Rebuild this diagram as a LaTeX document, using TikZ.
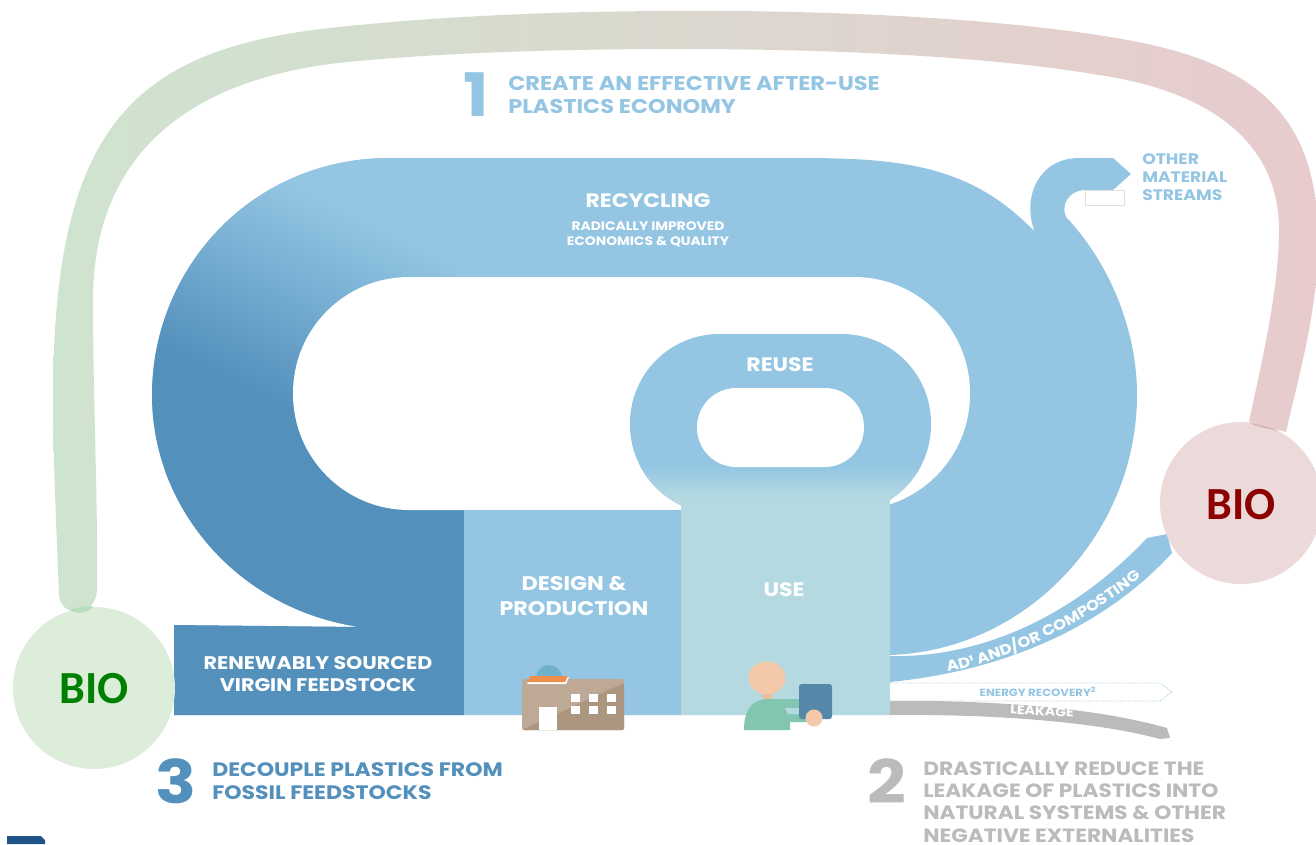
\documentclass[tikz,border=0pt]{standalone}
\usepackage{fontspec}
\setmainfont{Poppins}[FakeStretch=1.13]
\newfontfamily\biofont{Carlito}
\usetikzlibrary{decorations.text}

\definecolor{loopblue}{HTML}{94C6E3}
\definecolor{darkblue}{HTML}{5390BC}
\definecolor{usegreen}{HTML}{B5D9E0}
\definecolor{leakgray}{HTML}{BBBBBB}
\definecolor{biogreen}{HTML}{DCEDDA}
\definecolor{biored}{HTML}{ECDADA}
\definecolor{swooshgreen}{HTML}{CEE4CF}
\definecolor{swooshmid}{HTML}{DCDACC}
\definecolor{swooshred}{HTML}{E8CBCD}
\definecolor{lensgreen}{HTML}{B9DCBA}
\definecolor{lensred}{HTML}{D8B4B8}
\definecolor{factorylight}{HTML}{BDA995}
\definecolor{factorydark}{HTML}{AC9680}
\definecolor{factorydome}{HTML}{6FB0CB}
\definecolor{roofred}{HTML}{EE8F4C}
\definecolor{skin}{HTML}{F3C9A9}
\definecolor{bodygreen}{HTML}{82C5B0}
\definecolor{tabletblue}{HTML}{5587A8}
\definecolor{logoblue}{HTML}{1F5488}

\pgfdeclareverticalshading{loopfade}{100bp}{color(0bp)=(darkblue); color(37bp)=(darkblue); color(63bp)=(loopblue); color(100bp)=(loopblue)}

\def\looppath{(390,158) -- (800,158) .. controls (900,158) and (970,165) .. (1033,230) -- (1068,219) .. controls (1110,265) and (1137,330) .. (1137,395) .. controls (1137,530) and (1030,650) .. (890,655) -- (890,715) -- (174,715) -- (174,625) -- (360,627) .. controls (240,610) and (152,510) .. (152,395) .. controls (152,270) and (250,158) .. (390,158) -- cycle}

\tikzset{
    whitetxt/.style={text=white, font=\bfseries\fontsize{#1}{#1}\selectfont, align=center, inner sep=0pt},
    headtxt/.style={font=\bfseries\fontsize{#1}{16.8}\selectfont, align=left, anchor=west, inner sep=0pt},
    bigdigit/.style={font=\bfseries\fontsize{45}{45}\selectfont, inner sep=0pt},
    biotxt/.style={font=\biofont\bfseries\fontsize{34.5}{34.5}\selectfont, inner sep=0pt},
}

\begin{document}
\begin{tikzpicture}[x=0.75pt, y=-0.75pt]
    \useasboundingbox (0,0) rectangle (1316,844);
    \fill[white] (0,0) rectangle (1316,844);

    % Swoosh from bio to bio
    \path[shade, left color=swooshgreen, middle color=swooshmid, right color=swooshred]
        (59,595) .. controls (56,520) and (53,450) .. (53,400)
        .. controls (53,130) and (130,50) .. (330,28)
        .. controls (430,17) and (550,11) .. (680,11)
        .. controls (850,10) and (1010,20) .. (1116,38)
        .. controls (1250,60) and (1318,110) .. (1318,240)
        .. controls (1318,310) and (1300,370) .. (1286,432)
        -- (1249,422) .. controls (1262,360) and (1279,290) .. (1279,230)
        .. controls (1279,130) and (1190,88) .. (1099,75)
        .. controls (1000,58) and (850,49) .. (680,49)
        .. controls (570,49) and (450,52) .. (347,62)
        .. controls (170,80) and (93,170) .. (93,300)
        .. controls (93,400) and (98,500) .. (97,590)
        .. controls (96,618) and (60,618) .. (59,595) -- cycle;

    % Big loop
    \begin{scope}
        \clip \looppath;
        \fill[loopblue] (100,100) rectangle (1200,720);
        \fill[darkblue] (100,470) rectangle (464,720);
        \path[shade, shading=loopfade, shading angle=-26] (55,80) rectangle (455,480);
    \end{scope}
    \fill[white, rounded corners=87pt] (293,277) rectangle (970,510);

    % Other material streams
    \fill[loopblue] (1034,230) .. controls (1022,195) and (1040,158) .. (1079,158) -- (1113,158) -- (1131,174) -- (1113,190) -- (1085,190) .. controls (1070,190) and (1058,205) .. (1068,220) -- cycle;
    \draw[black!12, fill=white, line width=0.4pt] (1085,190) rectangle (1124,205);

    % Reuse ring and use block
    \fill[loopblue, rounded corners=67pt] (630,334) rectangle (931,514);
    \begin{scope}
        \clip[rounded corners=67pt] (630,334) rectangle (931,514);
        \shade[top color=loopblue, middle color=loopblue!70!white, bottom color=usegreen] (630,466) rectangle (931,498);
        \fill[usegreen] (630,498) rectangle (931,514);
    \end{scope}
    \fill[white, rounded corners=29.5pt] (697,388) rectangle (864,467);
    \fill[loopblue] (464,510) rectangle (681,715);
    \fill[usegreen] (681,498) rectangle (890,715);

    % Outflows
    \fill[loopblue] (890,656) .. controls (970,658) and (1065,625) .. (1147,538) -- (1167,534) -- (1172,553) .. controls (1120,610) and (1030,668) .. (890,682) -- cycle;
    \draw[loopblue, densely dotted, fill=white, line width=0.6pt] (890,683) -- (1160,683) -- (1172,692) -- (1160,701) -- (890,701);
    \fill[leakgray] (890,701) .. controls (980,700) and (1090,706) .. (1167,728) -- (1170,738) -- (1160,739) .. controls (1090,720) and (980,714) .. (890,715) -- cycle;

    % Factory
    \fill[factorydome] (549,678) circle (13);
    \fill[factorylight, rounded corners=1.5pt] (522,679) rectangle (624,730);
    \fill[factorydark, rounded corners=1pt] (522,730) -- (624,683) -- (624,730) -- cycle;
    \fill[white] (539,707) rectangle (557,730);
    \foreach \wx in {571,589,607} {
        \foreach \wy in {694,706} {
            \fill[white] (\wx,\wy) rectangle (\wx+9,\wy+8);
        }
    }
    \fill[white] (528,682) -- (569,677) -- (566,684) -- (527,684) -- cycle;
    \fill[roofred] (530,676) -- (568,676) -- (565,682) -- (528,682) -- cycle;

    % Person with tablet
    \fill[skin!85!brown] (763,690) rectangle (772,702);
    \fill[skin] (767,678) ellipse (18.5 and 16.5);
    \fill[bodygreen] (744,730) .. controls (744,712) and (750,700) .. (767,699) -- (800,699) -- (807,714) -- (807,722) -- (790,722) -- (790,730) -- cycle;
    \fill[usegreen] (785,708) -- (799,708) -- (799,714) -- (788,714) -- cycle;
    \fill[tabletblue, rounded corners=2pt] (799,684) rectangle (832,719);
    \fill[skin] (814,718) circle (8.5);

    % Bio circles
    \fill[biogreen] (94,688) circle (81);
    \fill[biored] (1241,503) circle (81);
    \fill[lensgreen] (70,610) .. controls (78,607) and (86,606) .. (93,606) .. controls (88,613) and (78,615) .. (70,610) -- cycle;
    \fill[lensred] (1249,423) .. controls (1260,424) and (1270,427) .. (1279,431) .. controls (1268,429) and (1258,427) .. (1249,423) -- cycle;
    \node[biotxt, text=green!50!black] (bioleft) at (94,689) {BIO};
    \node[biotxt, text=red!55!black] (bioright) at (1241,505) {BIO};

    % Labels on the loop
    \node[whitetxt=14.6] (recycling) at (648,201) {RECYCLING};
    \node[whitetxt=9.2] (recyclingsub) at (648,234) {RADICALLY IMPROVED\\[2.2pt]ECONOMICS \& QUALITY};
    \node[whitetxt=14.6] (reuse) at (780,365) {REUSE};
    \node[whitetxt=14.6] (use) at (784,590) {USE};
    \node[whitetxt=14.8] (design) at (574,596) {DESIGN \&\\[3.4pt]PRODUCTION};
    \node[whitetxt=13.7] (renewable) at (318,674) {RENEWABLY SOURCED\\[3.4pt]VIRGIN FEEDSTOCK};

    % Labels of the outflows
    \path[decorate, decoration={text along path, text align=center, text={|\bfseries\fontsize{11}{11}\selectfont\color{white}|AD¹ AND/OR COMPOSTING}}]
        (952,671) .. controls (1010,659) and (1080,625) .. (1138,580);
    \node[font=\bfseries\fontsize{7.8}{8}\selectfont, text=loopblue, inner sep=0pt] (energy) at (1038,692) {ENERGY RECOVERY\textsuperscript{2}};
    \node[whitetxt=9.4, rotate=-3] (leakage) at (1042,711) {LEAKAGE};

    % Numbered aims
    \node[bigdigit, text=loopblue] (one) at (476,95) {1};
    \node[headtxt=14.9, text=loopblue] (aimone) at (508,95) {CREATE AN EFFECTIVE AFTER-USE\\PLASTICS ECONOMY};
    \node[bigdigit, text=darkblue] (three) at (176,781) {3};
    \node[headtxt=14.6, text=darkblue] (aimthree) at (212,781) {DECOUPLE PLASTICS FROM\\FOSSIL FEEDSTOCKS};
    \node[bigdigit, text=leakgray] (two) at (887,781) {2};
    \node[headtxt=14.4, text=leakgray] (aimtwo) at (923,802) {DRASTICALLY REDUCE THE\\LEAKAGE OF PLASTICS INTO\\NATURAL SYSTEMS \& OTHER\\NEGATIVE EXTERNALITIES};
    \node[font=\bfseries\fontsize{11.4}{13.5}\selectfont, text=loopblue, align=left, anchor=west, inner sep=0pt] (streams) at (1142,177) {OTHER\\MATERIAL\\STREAMS};

    % Cut off mark at the bottom edge
    \fill[logoblue] (7,836) -- (41,836) -- (45,840) -- (45,844) -- (7,844) -- cycle;
\end{tikzpicture}
\end{document}
